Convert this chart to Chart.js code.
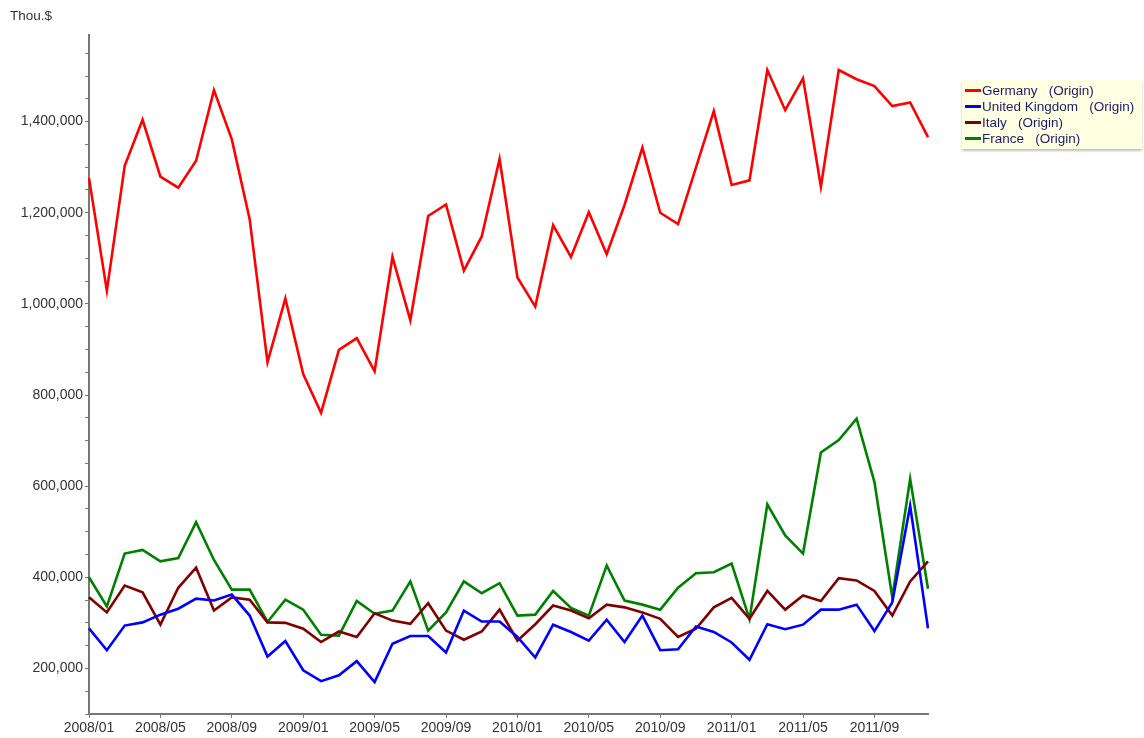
<!DOCTYPE html>
<html>
<head>
<meta charset="utf-8">
<script src="https://cdn.jsdelivr.net/npm/chart.js@4/dist/chart.umd.min.js"></script>
<style>
  html, body { margin: 0; padding: 0; background: #fff; }
  #wrap { position: relative; width: 1144px; height: 738px; }
  #unit { position: absolute; left: 10px; top: 8px; font: 13.5px "Liberation Sans", Arial, sans-serif; color: #333; }
  #legend { position: absolute; left: 962px; top: 80px; width: 180px; height: 69px; background: #FFFFE1;
            box-shadow: 0 2px 2px rgba(0,0,0,0.25); font: 13.5px "Liberation Sans", Arial, sans-serif; color: #1c1c6e; }
  .item { position: absolute; left: 3px; height: 16px; line-height: 16px; white-space: pre; }
  .swatch { display: inline-block; width: 16px; height: 3px; vertical-align: middle; margin-right: 1px; position: relative; top: -1px; }
</style>
</head>
<body>
<div id="wrap">
  <canvas id="c" width="1144" height="738"></canvas>
  <div id="unit">Thou.$</div>
  <div id="legend"></div>
</div>
<script>
const months = ['2008/01','2008/02','2008/03','2008/04','2008/05','2008/06','2008/07','2008/08','2008/09','2008/10','2008/11','2008/12',
  '2009/01','2009/02','2009/03','2009/04','2009/05','2009/06','2009/07','2009/08','2009/09','2009/10','2009/11','2009/12',
  '2010/01','2010/02','2010/03','2010/04','2010/05','2010/06','2010/07','2010/08','2010/09','2010/10','2010/11','2010/12',
  '2011/01','2011/02','2011/03','2011/04','2011/05','2011/06','2011/07','2011/08','2011/09','2011/10','2011/11','2011/12'];

const seriesNames = ['Germany   (Origin)', 'United Kingdom   (Origin)', 'Italy   (Origin)', 'France   (Origin)'];
const seriesColors = ['#FF0000', '#0000FF', '#800000', '#008000'];

const germany = [1276000,1029000,1303000,1404000,1279000,1255000,1314000,1469000,1361000,1186000,
  872000,1012000,846000,761000,899000,925000,852000,1103000,964000,1193000,
  1218000,1073000,1148000,1318000,1058000,994000,1173000,1103000,1201000,1109000,
  1217000,1343000,1200000,1175000,1299000,1423000,1261000,1271000,1513000,1425000,
  1495000,1257000,1513000,1493000,1478000,1434000,1442000,1366000];
const unitedKingdom = [288000,240000,294000,301000,318000,331000,353000,349000,362000,316000,226000,260000,196000,
  172000,185000,216000,170000,254000,271000,271000,235000,327000,303000,303000,269000,
  224000,296000,280000,261000,307000,258000,316000,240000,242000,292000,280000,257000,
  219000,297000,286000,296000,329000,329000,340000,282000,345000,557000,288000];
const italy = [356000,323000,382000,367000,296000,377000,421000,327000,356000,351000,301000,300000,287000,
  258000,281000,269000,321000,305000,298000,343000,283000,263000,281000,329000,261000,
  297000,338000,327000,310000,340000,334000,323000,309000,269000,287000,334000,355000,
  309000,370000,329000,360000,348000,398000,393000,370000,316000,391000,435000];
const france = [400000,336000,452000,460000,435000,442000,521000,438000,373000,373000,302000,351000,329000,
  274000,272000,348000,320000,327000,391000,283000,323000,391000,365000,387000,316000,
  318000,370000,333000,316000,426000,349000,340000,329000,377000,409000,411000,430000,
  308000,560000,492000,452000,674000,701000,748000,609000,356000,616000,375000];

const yMin = 100000, yMax = 1590000, yStep = 50000, yLabelStep = 200000, xLabelEvery = 4;

const seriesData = [germany, unitedKingdom, italy, france];

function fmt(n) {
  return String(Math.round(n)).replace(/\B(?=(\d{3})+(?!\d))/g, ',');
}

const leg = document.getElementById('legend');
seriesNames.forEach((n, i) => {
  const d = document.createElement('div');
  d.className = 'item';
  d.style.top = (3 + i * 16) + 'px';
  d.innerHTML = '<span class="swatch" style="background:' + seriesColors[i] + '"></span>';
  d.appendChild(document.createTextNode(n));
  leg.appendChild(d);
});

const font = { family: '"Liberation Sans", Arial, sans-serif', size: 14 };

new Chart(document.getElementById('c'), {
  type: 'line',
  data: {
    labels: months,
    datasets: seriesData.map((d, i) => ({
      label: seriesNames[i],
      data: d,
      borderColor: seriesColors[i],
      backgroundColor: seriesColors[i],
      borderWidth: 2.6,
      pointRadius: 0,
      tension: 0,
      fill: false
    }))
  },
  options: {
    responsive: false,
    devicePixelRatio: 1,
    animation: false,
    layout: { padding: { left: 0, right: 216, top: 35, bottom: 0 } },
    plugins: { legend: { display: false }, tooltip: { enabled: false } },
    scales: {
      x: {
        offset: false,
        border: { color: '#777', width: 2 },
        grid: {
          drawOnChartArea: false, drawTicks: true, tickLength: 4,
          tickColor: (ctx) => (ctx.index % xLabelEvery === 0 ? '#777' : 'rgba(0,0,0,0)')
        },
        ticks: {
          autoSkip: false, maxRotation: 0, color: '#333', font: font, padding: 2,
          callback: function (v, i) { return i % xLabelEvery === 0 ? months[i] : ''; }
        },
        afterFit: (s) => { s.height = 24; }
      },
      y: {
        min: yMin, max: yMax,
        border: { color: '#777', width: 2 },
        grid: { drawOnChartArea: false, drawTicks: true, tickLength: 4, tickColor: '#777' },
        ticks: {
          autoSkip: false, color: '#333', font: font, padding: 2,
          callback: function (v) {
            const n = Number(v);
            const r = Math.round(n / yLabelStep) * yLabelStep;
            return Math.abs(r - n) < 1 ? fmt(r) : '';
          }
        },
        afterBuildTicks: (s) => {
          const t = [];
          for (let v = yMin; v <= yMax; v += yStep) t.push({ value: v });
          s.ticks = t;
        },
        afterFit: (s) => { s.width = 89; }
      }
    }
  }
});
</script>
</body>
</html>
